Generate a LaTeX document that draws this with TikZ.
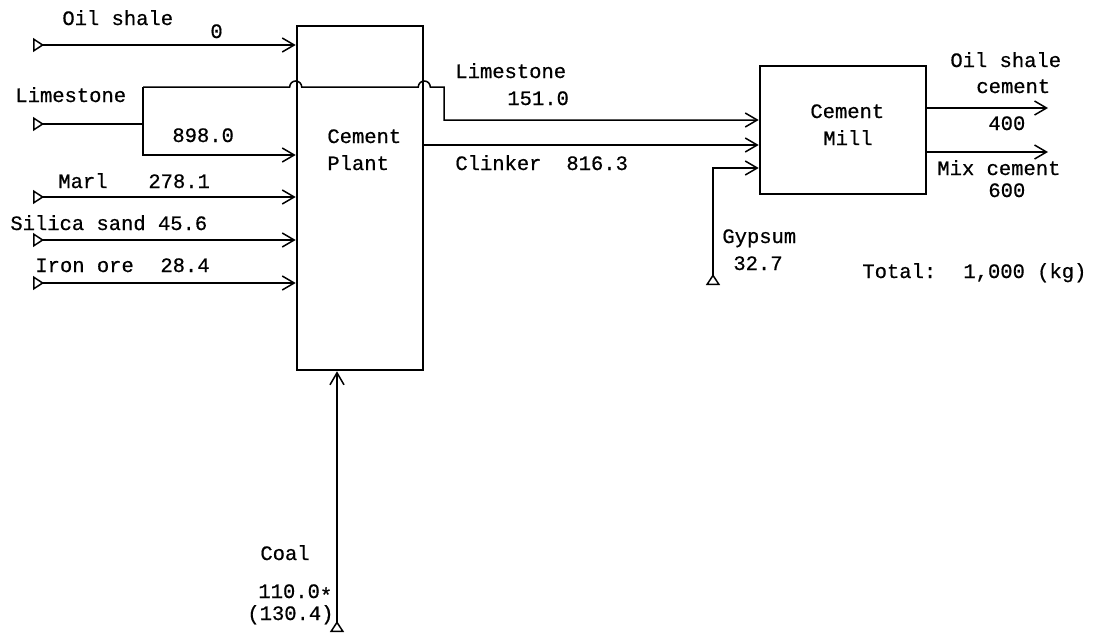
\documentclass[tikz,border=0pt]{standalone}
\usepackage{fontspec}
\setmonofont{Liberation Mono}[FakeBold=0.6]
\usetikzlibrary{arrows.meta}

\tikzset{
    tri/.tip={Triangle[open, reversed, length=5.5pt, width=7pt]},
    barb/.tip={Straight Barb[length=6pt, width=7pt]},
}

\begin{document}
\begin{tikzpicture}[x=0.5pt, y=-0.5pt,
    pipe/.style={line width=0.75pt},
    flow/.style={pipe, -barb},
    feed/.style={pipe, tri-barb},
    unit/.style={draw, line width=1.3pt, inner sep=0pt},
    lbl/.style={anchor=base west, inner sep=0pt, font=\ttfamily\fontsize{10.25}{12}\selectfont}]
    \useasboundingbox (0,0) rectangle (1094,638);
    % units
    \node[unit, minimum width=63pt, minimum height=172pt] (plant) at (360,198) {};
    \node[unit, minimum width=83pt, minimum height=64pt] (mill) at (843,130) {};
    \node[lbl] (plantname) at (327,143) {Cement};
    \node[lbl] (plantname2) at (327,170) {Plant};
    \node[lbl] (millname) at (810,118) {Cement};
    \node[lbl] (millname2) at (823,145) {Mill};
    % sources and sinks
    \coordinate (oilsrc) at (33,45);
    \coordinate (limesrc) at (33,124);
    \coordinate (limesplit) at (143,124);
    \coordinate (limeturn) at (444,87);
    \coordinate (marlsrc) at (33,197);
    \coordinate (sandsrc) at (33,240);
    \coordinate (oresrc) at (33,283);
    \coordinate (coalsrc) at (337,632);
    \coordinate (gypsrc) at (713,285);
    \coordinate (oscem) at (1048,108);
    \coordinate (mixcem) at (1048,152);
    % raw materials to the plant
    \foreach \s in {oilsrc, marlsrc, sandsrc, oresrc}
        \draw[feed] (\s) -- (\s -| plant.west);
    \draw[pipe, tri-] (limesrc) -- (limesplit);
    \draw[flow] (limesplit |- 0,87) -- (limesplit |- 0,155) -- (plant.west |- 0,155);
    \draw[flow] (limesplit |- 0,87) -- ([xshift=-3pt]plant.west |- 0,87)
        arc[start angle=180, end angle=360, radius=6]
        -- ([xshift=-3pt]plant.east |- 0,87)
        arc[start angle=180, end angle=360, radius=6]
        -- (limeturn) -- (limeturn |- 0,120) -- (mill.west |- 0,120);
    \draw[feed] (coalsrc) -- (coalsrc |- plant.south);
    % plant to mill
    \draw[flow] (plant.east |- 0,145) -- (mill.west |- 0,145);
    \draw[feed] (gypsrc) -- (gypsrc |- 0,168) -- (mill.west |- 0,168);
    \draw[flow] (mill.east |- oscem) -- (oscem);
    \draw[flow] (mill.east |- mixcem) -- (mixcem);
    % labels
    \node[lbl] (oilname) at (62,25) {Oil shale};
    \node[lbl] (oilqty) at (210,38) {0};
    \node[lbl] (limename) at (15,102) {Limestone};
    \node[lbl] (limeqty) at (172,142) {898.0};
    \node[lbl] (marlname) at (58,188) {Marl};
    \node[lbl] (marlqty) at (148,188) {278.1};
    \node[lbl] (sandname) at (10,230) {Silica sand 45.6};
    \node[lbl] (orename) at (35,272) {Iron ore};
    \node[lbl] (oreqty) at (160,272) {28.4};
    \node[lbl] (limename2) at (455,78) {Limestone};
    \node[lbl] (limeqty2) at (507,105) {151.0};
    \node[lbl] (clkname) at (455,170) {Clinker};
    \node[lbl] (clkqty) at (566,170) {816.3};
    \node[lbl] (osname) at (950,67) {Oil shale};
    \node[lbl] (osname2) at (976,93) {cement};
    \node[lbl] (osqty) at (988,130) {400};
    \node[lbl] (mixname) at (937,175) {Mix cement};
    \node[lbl] (mixqty) at (988,197) {600};
    \node[lbl] (gypname) at (722,243) {Gypsum};
    \node[lbl] (gypqty) at (733,270) {32.7};
    \node[lbl] (total) at (862,278) {Total:};
    \node[lbl] (totalqty) at (963,278) {1,000 (kg)};
    \node[lbl] (coalname) at (260,560) {Coal};
    \node[lbl] (coalqty) at (258,598) {110.0\raisebox{-0.4ex}{*}};
    \node[lbl] (coalqty2) at (247,620) {(130.4)};
\end{tikzpicture}
\end{document}
